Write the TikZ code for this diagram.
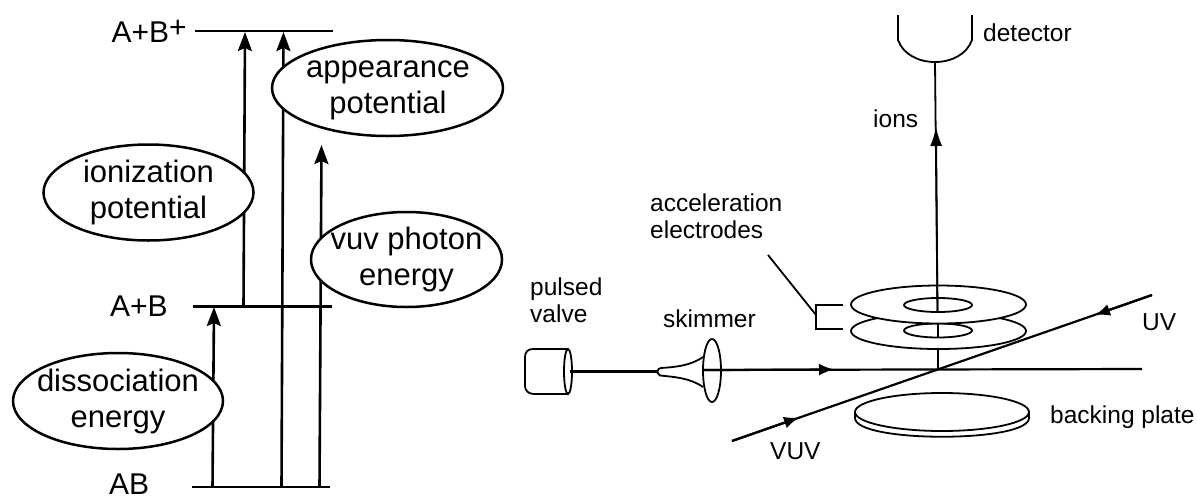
\documentclass[tikz,border=0pt]{standalone}
\usepackage{fontspec}
\setmainfont{Liberation Sans}
\usetikzlibrary{arrows.meta,shapes.geometric}
\tikzset{
  lvl/.style={line width=2.6pt},
  riser/.style={line width=2.6pt,-{Stealth[length=19pt,width=14pt,inset=3pt]}},
  oval/.style={draw,fill=white,ellipse,line width=2.5pt,inner sep=0pt},
  ovaltext/.style={inner sep=0pt,align=center,font=\fontsize{31}{36}\selectfont},
  biglabel/.style={anchor=base west,inner sep=0pt,font=\fontsize{30}{36}\selectfont},
  smalllabel/.style={anchor=base west,inner sep=0pt,align=left,font=\fontsize{24.5}{26.5}\selectfont},
  thin line/.style={line width=1.8pt},
  beam/.style={line width=2.2pt},
  beamtip/.style={line width=2.2pt,-{Latex[length=15pt,width=12pt]}},
  disk/.style={draw,fill=white,ellipse,line width=1.8pt,inner sep=0pt},
}
\begin{document}
\begin{tikzpicture}[x=1pt,y=-1pt]
\useasboundingbox (0,0) rectangle (1197,496);
\fill[white] (0,0) rectangle (1197,496);
% --- energy diagram ---
\coordinate (topL) at (195,31);   \coordinate (topR) at (333,31);
\coordinate (midL) at (193,306.5);\coordinate (midR) at (332,306.5);
\coordinate (lowL) at (192,487);  \coordinate (lowR) at (330,487);
\coordinate (ionS) at (243.5,306.5); \coordinate (ionE) at (245,32);
\coordinate (appS) at (281.5,487);   \coordinate (appE) at (283.5,32);
\coordinate (vuvS) at (319.5,487);   \coordinate (vuvE) at (321.5,145);
\coordinate (disS) at (212.5,487);   \coordinate (disE) at (214,307);
\draw[lvl] (topL) -- (topR);
\draw[lvl] (midL) -- (midR);
\draw[lvl] (lowL) -- (lowR);
\draw[riser] (ionS) -- (ionE);
\draw[riser] (appS) -- (appE);
\draw[riser] (vuvS) -- (vuvE);
\draw[riser] (disS) -- (disE);
\node[oval,minimum width=210pt,minimum height=96pt] (ion) at (148.5,192.5) {};
\node[ovaltext] (iont) at (ion.center) {\vphantom{d}ionization\\potential};
\node[oval,minimum width=231pt,minimum height=96pt] (app) at (387.5,88) {};
\node[ovaltext] (appt) at (388,87) {\vphantom{d}appearance\\potential};
\node[oval,minimum width=191pt,minimum height=95pt] (vuv) at (406.5,259.5) {};
\node[ovaltext] (vuvt) at (vuv.center) {\vphantom{d}vuv photon\\energy};
\node[oval,minimum width=210pt,minimum height=96pt] (dis) at (118,401) {};
\node[ovaltext] (dist) at (dis.center) {\vphantom{d}dissociation\\energy};
\node[biglabel] (lab1) at (111.5,42) {A+B\raisebox{5pt}{+}};
\node[biglabel] (lab2) at (110,316) {A+B};
\node[biglabel] (lab3) at (109,494) {AB};
% --- apparatus ---
\node[smalllabel] (lpv) at (530,322) {pulsed\\valve};
\node[smalllabel] (lsk) at (663,327) {skimmer};
\node[smalllabel] (lae) at (650,238) {acceleration\\electrodes};
\node[smalllabel] (lio) at (873,127) {ions};
\node[smalllabel] (lde) at (983,41) {detector};
\node[smalllabel] (lvu) at (770,459) {VUV};
\node[smalllabel] (luv) at (1142,330) {UV};
\node[smalllabel] (lbp) at (1050,423) {backing plate};
% detector
\draw[thin line] (898,15) -- (898,40) .. controls (903,54) and (918,62) .. (935,62) .. controls (952,62) and (967,54) .. (972,40) -- (972,15);
% valve
\draw[thin line] (568,349) -- (533,349) .. controls (528,349) and (525,352) .. (525,357) -- (525,386) .. controls (525,391) and (529,394) .. (534,394) -- (568,394);
\node[disk,fill=none,minimum width=8pt,minimum height=45pt] (valveend) at (568,371.5) {};
% skimmer
\draw[thin line] (703,357) .. controls (690,366) and (675,367) .. (661,368) .. controls (657,368.5) and (656,373) .. (660,375.5) .. controls (675,377) and (690,378) .. (703,387);
\node[disk,fill=none,minimum width=18pt,minimum height=63pt] (skim) at (712,370.5) {};
% molecular beam
\coordinate (bA) at (570,371.5); \coordinate (bB) at (657,371.5);
\coordinate (bC) at (703,370); \coordinate (bD) at (834,369.5);
\coordinate (cross) at (938,369); \coordinate (bE) at (1142,369);
\draw[beam] (bA) -- (bB);
\draw[beam] (bC) -- (bE);
\draw[beamtip] (bC) -- (bD);
% lower electrode
\node[disk,minimum width=175pt,minimum height=36pt] (low) at (938.5,331) {};
\node[disk,minimum width=68pt,minimum height=14pt] (lowh) at (938,330.5) {};
\coordinate (h1) at (938,324); \coordinate (h2) at (938,337);
\draw[thin line] (h1) -- (h2);
% upper electrode
\node[disk,minimum width=175pt,minimum height=38pt] (up) at (938.5,304.5) {};
\node[disk,minimum width=68pt,minimum height=14pt] (uph) at (938,305) {};
% ion path
\coordinate (i0) at (938,369); \coordinate (i1) at (938,349);
\coordinate (i2) at (937.5,312); \coordinate (i3) at (936,127); \coordinate (i4) at (935,62);
\draw[thin line] (i0) -- (i1);
\draw[thin line] (i2) -- (i4);
\draw[thin line,-{Latex[length=19pt,width=12pt]}] (i2) -- (i3);
% diagonal beams
\coordinate (dA) at (732,441); \coordinate (dB) at (799,417.5);
\coordinate (dC) at (1152,295); \coordinate (dD) at (1095,315);
\draw[beam] (dA) -- (dC);
\draw[beamtip] (dA) -- (dB);
\draw[beamtip] (dC) -- (dD);
% bracket
\coordinate (brT) at (843,305); \coordinate (brB) at (843,329);
\coordinate (brTc) at (816,305); \coordinate (brBc) at (816,329);
\coordinate (lead0) at (768,255); \coordinate (lead1) at (816,315);
\draw[thin line] (brT) -- (brTc) -- (brBc) -- (brB);
\draw[thin line] (lead0) -- (lead1);
% backing plate
\draw[thin line] (855,412) -- (855,418) .. controls (855,443) and (1029,443) .. (1029,418) -- (1029,412);
\node[disk,minimum width=174pt,minimum height=38pt] (plate) at (942,412) {};
\end{tikzpicture}
\end{document}
